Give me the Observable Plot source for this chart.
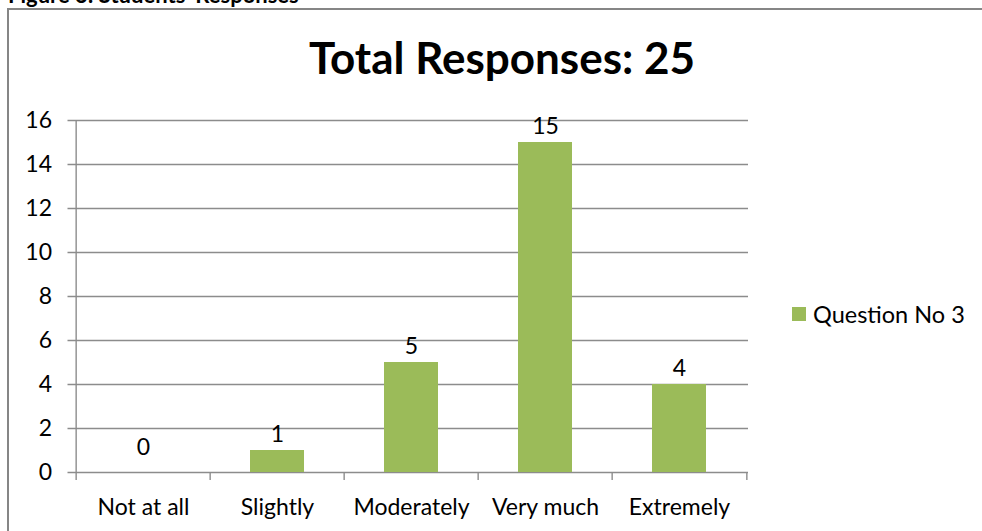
<!DOCTYPE html>
<html>
<head>
<meta charset="utf-8">
<script src="https://cdn.jsdelivr.net/npm/d3@7"></script>
<script src="https://cdn.jsdelivr.net/npm/@observablehq/plot@0.6"></script>
<style>
  html, body { margin: 0; padding: 0; background: #fff; overflow: hidden; }
  #wrap { position: relative; width: 982px; height: 531px; font-family: Lato, "Open Sans", sans-serif; }
  #frame { position: absolute; left: 7px; top: 8px; width: 990px; height: 560px;
           border-left: 2px solid #868686; border-top: 2px solid #868686; }
  #fig { position: absolute; left: 8px; top: -19px; font-weight: bold; font-size: 22px; color: #000; white-space: nowrap; }
  #title { position: absolute; left: 0; width: 1004px; top: 31px; text-align: center;
           font-weight: bold; font-size: 44px; color: #000; }
  #legend { position: absolute; left: 792px; top: 300px; font-size: 23.5px; color: #000; display: flex; align-items: center; }
  #legend .sw { width: 14px; height: 14px; background: #9BBB59; margin-right: 7px; }
  #chart { position: absolute; left: 0; top: 0; }
</style>
</head>
<body>
<div id="wrap">
  <div id="fig">Figure 3: Students' Responses</div>
  <div id="frame"></div>
  <div id="chart"></div>
  <div id="title">Total Responses: 25</div>
  <div id="legend"><div class="sw"></div><span>Question No 3</span></div>
</div>
<script>
const categories = ["Not at all", "Slightly", "Moderately", "Very much", "Extremely"];
const values = [0, 1, 5, 15, 4];
const seriesName = "Question No 3";
const yTicks = [0, 2, 4, 6, 8, 10, 12, 14, 16];

const data = categories.map((c, i) => ({category: c, value: values[i], series: seriesName}));
const half = (748 - 74.5) / categories.length / 2;
const grey = "#8c8c8c";

const chart = Plot.plot({
  width: 982,
  height: 531,
  marginLeft: 74.5,
  marginRight: 234,
  marginTop: 120,
  marginBottom: 59,
  style: {fontFamily: "Lato, 'Open Sans', sans-serif", background: "transparent", color: "#000"},
  x: {domain: categories, paddingInner: 0.6, paddingOuter: 0.3, label: null},
  y: {domain: [0, 16], label: null},
  marks: [
    Plot.gridY(yTicks, {stroke: grey, strokeOpacity: 1, strokeWidth: 1.4, insetLeft: -7}),
    Plot.axisY(yTicks, {tickSize: 0, tickPadding: 23, fontSize: 23, label: null, tickFormat: d => d}),
    Plot.barY(data, {x: "category", y: "value", fill: "#9BBB59"}),
    Plot.ruleX(data, {x: "category", dx: -half, y1: 0, y2: 16, stroke: grey, strokeWidth: 1.4, filter: (d, i) => i === 0}),
    Plot.ruleX(data, {x: "category", dx: -half, y1: 0, y2: 0, insetBottom: -8, stroke: grey, strokeWidth: 1.4}),
    Plot.ruleX(data, {x: "category", dx: half, y1: 0, y2: 0, insetBottom: -8, stroke: grey, strokeWidth: 1.4, filter: (d, i) => i === categories.length - 1}),
    Plot.axisX({tickSize: 0, tickPadding: 26, fontSize: 23, label: null}),
    Plot.text(data, {x: "category", y: "value", text: d => String(d.value), dy: -9, lineAnchor: "bottom", fontSize: 23, fill: "#000", filter: d => d.value !== 0}),
    Plot.text(data, {x: "category", y: "value", text: d => String(d.value), dy: -18, lineAnchor: "bottom", fontSize: 23, fill: "#000", filter: d => d.value === 0})
  ]
});
document.getElementById("chart").appendChild(chart);
</script>
</body>
</html>
